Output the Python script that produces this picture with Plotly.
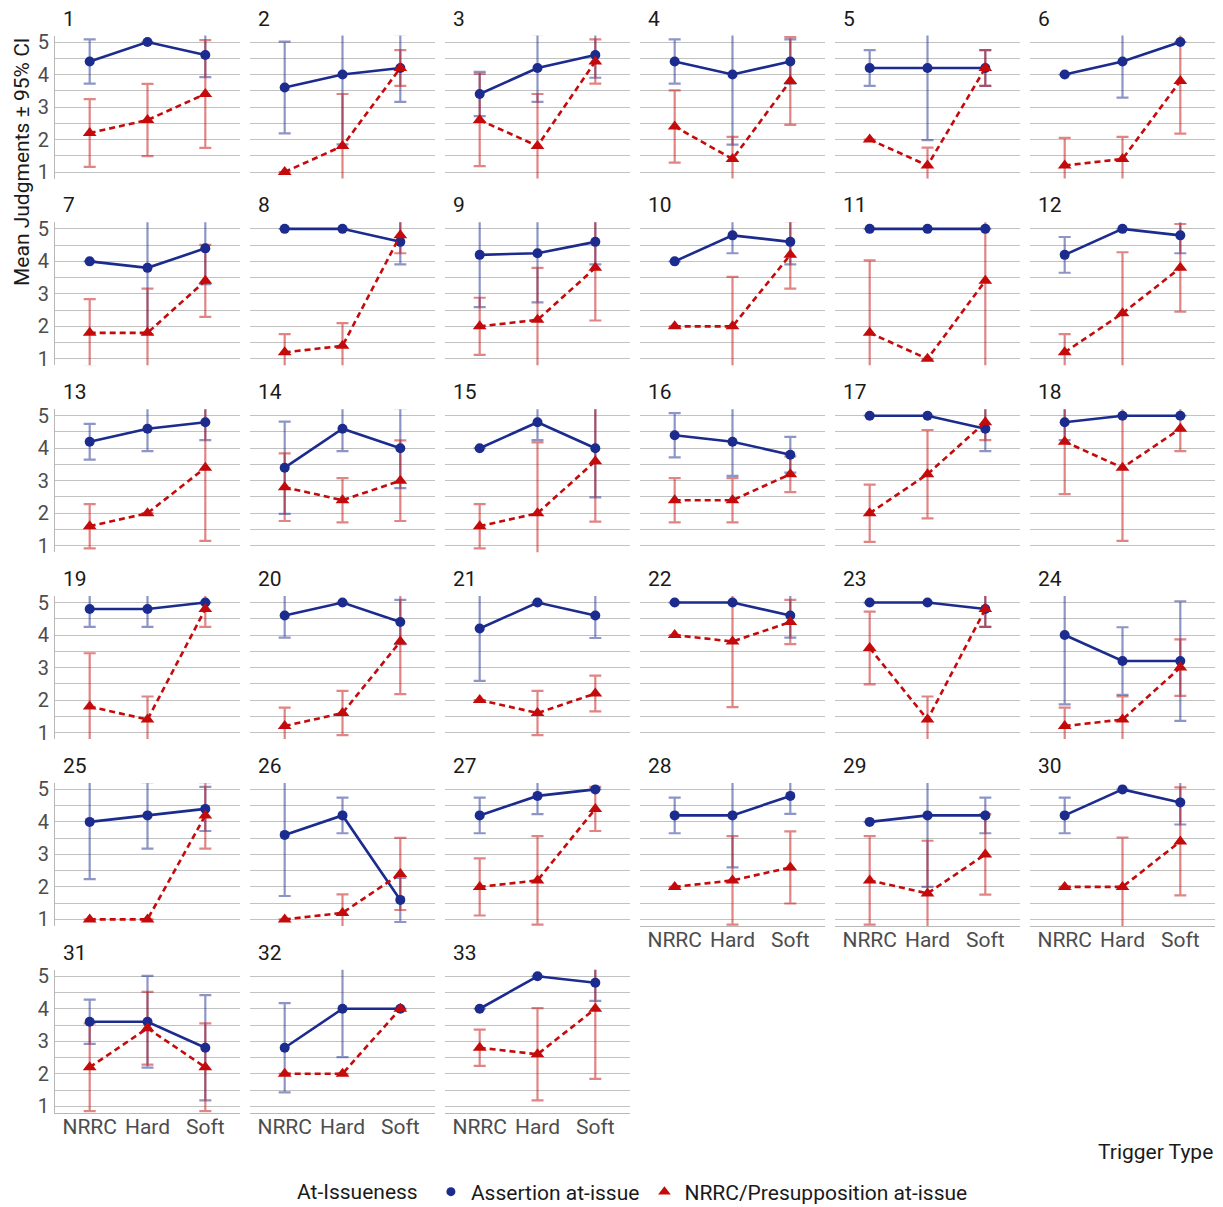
import plotly.graph_objects as go

categories = ["NRRC", "Hard", "Soft"]
panel_labels = [str(i) for i in range(1, 34)]
y_ticks = [1, 2, 3, 4, 5]

assertion_mean = [
    [4.4, 5.0, 4.6], [3.6, 4.0, 4.2], [3.4, 4.2, 4.6], [4.4, 4.0, 4.4], [4.2, 4.2, 4.2], [4.0, 4.4, 5.0],
    [4.0, 3.8, 4.4], [5.0, 5.0, 4.6], [4.2, 4.25, 4.6], [4.0, 4.8, 4.6], [5.0, 5.0, 5.0], [4.2, 5.0, 4.8],
    [4.2, 4.6, 4.8], [3.4, 4.6, 4.0], [4.0, 4.8, 4.0], [4.4, 4.2, 3.8], [5.0, 5.0, 4.6], [4.8, 5.0, 5.0],
    [4.8, 4.8, 5.0], [4.6, 5.0, 4.4], [4.2, 5.0, 4.6], [5.0, 5.0, 4.6], [5.0, 5.0, 4.8], [4.0, 3.2, 3.2],
    [4.0, 4.2, 4.4], [3.6, 4.2, 1.6], [4.2, 4.8, 5.0], [4.2, 4.2, 4.8], [4.0, 4.2, 4.2], [4.2, 5.0, 4.6],
    [3.6, 3.6, 2.8], [2.8, 4.0, 4.0], [4.0, 5.0, 4.8],
]
assertion_ci = [
    [0.68, 0, 0.68], [1.41, 2.15, 1.04], [0.68, 1.04, 0.7], [0.68, 2.16, 0.68], [0.55, 2.22, 0.55], [0, 1.11, 0],
    [0, 2.04, 1.1], [0, 0, 0.69], [1.61, 1.51, 0.69], [0, 0.55, 0.69], [0, 0, 0], [0.55, 0, 0.55],
    [0.55, 0.69, 0.55], [1.42, 0.69, 1.23], [0, 0.55, 1.51], [0.68, 1.05, 0.55], [0, 0, 0.69], [0.55, 0, 0],
    [0.55, 0.55, 0], [0.68, 0, 0.68], [1.61, 0, 0.69], [0, 0, 0.68], [0, 0, 0.55], [2.13, 1.04, 1.84],
    [1.76, 1.02, 0.68], [1.88, 0.55, 0.68], [0.55, 0.56, 0], [0.55, 1.6, 0.55], [0, 2.2, 0.55], [0.55, 0, 0.68],
    [0.68, 1.41, 1.62], [1.37, 1.49, 0], [0, 0, 0.56],
]
nrrc_mean = [
    [2.2, 2.6, 3.4], [1.0, 1.8, 4.2], [2.6, 1.8, 4.4], [2.4, 1.4, 3.8], [2.0, 1.2, 4.2], [1.2, 1.4, 3.8],
    [1.8, 1.8, 3.4], [1.2, 1.4, 4.8], [2.0, 2.2, 3.8], [2.0, 2.0, 4.2], [1.8, 1.0, 3.4], [1.2, 2.4, 3.8],
    [1.6, 2.0, 3.4], [2.8, 2.4, 3.0], [1.6, 2.0, 3.6], [2.4, 2.4, 3.2], [2.0, 3.2, 4.8], [4.2, 3.4, 4.6],
    [1.8, 1.4, 4.8], [1.2, 1.6, 3.8], [2.0, 1.6, 2.2], [4.0, 3.8, 4.4], [3.6, 1.4, 4.8], [1.2, 1.4, 3.0],
    [1.0, 1.0, 4.2], [1.0, 1.2, 2.4], [2.0, 2.2, 4.4], [2.0, 2.2, 2.6], [2.2, 1.8, 3.0], [2.0, 2.0, 3.4],
    [2.2, 3.4, 2.2], [2.0, 2.0, 4.0], [2.8, 2.6, 4.0],
]
nrrc_ci = [
    [1.04, 1.11, 1.66], [0, 1.6, 0.55], [1.42, 1.6, 0.68], [1.11, 0.68, 1.35], [0, 0.55, 0.55], [0.85, 0.68, 1.62],
    [1.04, 1.36, 1.11], [0.56, 0.7, 0.55], [0.88, 1.6, 1.62], [0, 1.52, 1.04], [2.23, 0, 2.78], [0.56, 1.88, 1.35],
    [0.68, 0, 2.25], [1.04, 0.68, 1.24], [0.68, 2.18, 1.86], [0.68, 0.68, 0.55], [0.88, 1.36, 0.55], [1.61, 2.25, 0.69],
    [1.64, 0.71, 0.55], [0.57, 0.68, 1.62], [0, 0.68, 0.55], [0, 2.02, 0.68], [1.12, 0.71, 0.55], [0.57, 0.71, 0.87],
    [0, 0, 1.02], [0, 0.57, 1.11], [0.88, 1.36, 0.68], [0, 1.36, 1.11], [1.36, 1.62, 1.24], [0, 1.52, 1.66],
    [1.35, 1.12, 1.35], [0, 0, 0], [0.56, 1.42, 2.16],
]

W, H = 1223, 1207
FONT = "Roboto, 'Noto Sans', sans-serif"
BLUE = "#1C2B8E"
RED = "#C40A0A"
BLUE_ERR = "rgba(28,43,142,0.5)"
RED_ERR = "rgba(196,10,10,0.5)"
GRID = "#c2c2c2"
TICK_GRAY = "#4d4d4d"

col_left = [55, 250, 445, 640, 835, 1030]
panel_w = 185
row_top0 = 35.5
row_step = 186.85
panel_h = 143
bottom_panels = {27, 28, 29, 30, 31, 32}

x_pos = list(range(len(categories)))

fig = go.Figure()
layout = dict(
    width=W, height=H, autosize=False,
    margin=dict(l=0, r=0, t=0, b=0, autoexpand=False),
    paper_bgcolor="white", plot_bgcolor="white",
    font=dict(family=FONT, color="#1a1a1a"),
    showlegend=True,
)
annotations = []

for i in range(33):
    r, c = divmod(i, 6)
    x0 = col_left[c]
    top = row_top0 + r * row_step
    bot = top + panel_h
    n = "" if i == 0 else str(i + 1)
    xa, ya = "x" + n, "y" + n
    layout["xaxis" + n] = dict(
        domain=[x0 / W, (x0 + panel_w) / W], anchor=ya,
        range=[-0.6, 2.6], tickvals=x_pos, ticktext=categories,
        showticklabels=i in bottom_panels, showgrid=False, zeroline=False,
        showline=i in bottom_panels, linecolor="#b8b8b8", linewidth=1.2,
        ticks="", ticklabelstandoff=-5, tickfont=dict(family=FONT, size=21, color=TICK_GRAY),
        automargin=False, fixedrange=True,
    )
    layout["yaxis" + n] = dict(
        domain=[(H - bot) / H, (H - top) / H], anchor=xa,
        range=[0.8, 5.2], tickvals=y_ticks,
        showticklabels=c == 0, showgrid=True, gridcolor=GRID, gridwidth=1.2,
        minor=dict(tickvals=[1.5, 2.5, 3.5, 4.5], showgrid=True, gridcolor=GRID, gridwidth=1.2),
        zeroline=False, showline=c == 0, linecolor="#b8b8b8", linewidth=1.2,
        ticks="", ticklabelstandoff=1, tickfont=dict(family=FONT, size=20, color=TICK_GRAY),
        automargin=False, fixedrange=True,
    )
    # error bars first (both series), then lines/points
    for means, cis, col in ((assertion_mean, assertion_ci, BLUE_ERR), (nrrc_mean, nrrc_ci, RED_ERR)):
        fig.add_trace(go.Scatter(
            x=x_pos, y=means[i], xaxis=xa, yaxis=ya, mode="markers",
            marker=dict(size=1, opacity=0), showlegend=False, hoverinfo="skip",
            error_y=dict(type="data", array=cis[i], visible=True, color=col, thickness=2.2, width=6),
        ))
    fig.add_trace(go.Scatter(
        x=x_pos, y=assertion_mean[i], xaxis=xa, yaxis=ya, mode="lines+markers",
        line=dict(color=BLUE, width=2.6), marker=dict(color=BLUE, size=10, symbol="circle"),
        showlegend=False, name="Assertion at-issue",
    ))
    fig.add_trace(go.Scatter(
        x=x_pos, y=nrrc_mean[i], xaxis=xa, yaxis=ya, mode="lines+markers",
        line=dict(color=RED, width=2.6, dash="6px,4px"),
        marker=dict(color=RED, size=12, symbol="triangle-up"),
        showlegend=False, name="NRRC/Presupposition at-issue",
    ))
    annotations.append(dict(
        text=panel_labels[i], xref="paper", yref="paper",
        x=(x0 + 6) / W, y=(H - (top - 17)) / H, xanchor="left", yanchor="middle",
        showarrow=False, font=dict(family=FONT, size=21, color="#1a1a1a"),
    ))

# legend-only entries
fig.add_trace(go.Scatter(x=[None], y=[None], mode="markers", name="Assertion at-issue",
                         marker=dict(color=BLUE, size=9, symbol="circle"), showlegend=True))
fig.add_trace(go.Scatter(x=[None], y=[None], mode="markers", name="NRRC/Presupposition at-issue",
                         marker=dict(color=RED, size=11, symbol="triangle-up"), showlegend=True))

annotations.append(dict(
    text="Mean Judgments ± 95% CI", xref="paper", yref="paper",
    x=22 / W, y=(H - 162) / H, xanchor="center", yanchor="middle", textangle=-90,
    showarrow=False, font=dict(family=FONT, size=21, color="#1a1a1a"),
))
annotations.append(dict(
    text="Trigger Type", xref="paper", yref="paper",
    x=1215 / W, y=(H - 1152) / H, xanchor="right", yanchor="middle",
    showarrow=False, font=dict(family=FONT, size=21, color="#1a1a1a"),
))

layout["annotations"] = annotations
layout["legend"] = dict(
    orientation="h", x=634 / W, xanchor="center", y=(H - 1192) / H, yanchor="middle",
    title=dict(text="At-Issueness ", side="left", font=dict(family=FONT, size=21, color="#1a1a1a")),
    font=dict(family=FONT, size=21, color="#1a1a1a"), itemwidth=30, tracegroupgap=0,
    bgcolor="rgba(0,0,0,0)",
)
fig.update_layout(**layout)
fig.write_html(
    "out.html",
    config={"displayModeBar": False},
    post_script="document.body.style.margin='0';document.body.style.overflow='hidden';",
)
